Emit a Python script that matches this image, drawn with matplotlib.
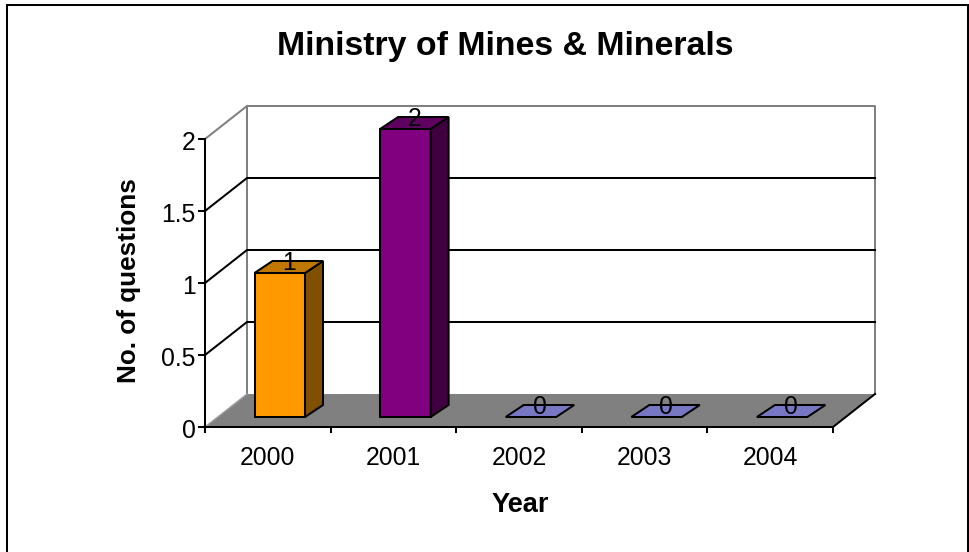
import matplotlib
matplotlib.use("Agg")
import matplotlib.pyplot as plt
from matplotlib.patches import Polygon
from matplotlib.transforms import ScaledTranslation

plt.rcParams['font.family'] = ['Liberation Sans', 'DejaVu Sans']

years = ['2000', '2001', '2002', '2003', '2004']
values = [1, 2, 0, 0, 0]
front_colors = ['#FF9900', '#800080', '#7777C4', '#7777C4', '#7777C4']
side_colors = ['#805000', '#400040', '#7777C4', '#7777C4', '#7777C4']
top_colors = ['#C07800', '#600060', '#7777C4', '#7777C4', '#7777C4']
y_ticks = [0, 0.5, 1, 1.5, 2]
y_tick_labels = ['0', '0.5', '1', '1.5', '2']

W, H = 969, 552
fig = plt.figure(figsize=(W / 100, H / 100), dpi=100, facecolor='white')
# outer frame: bottom edge runs off the picture
fig.add_artist(plt.Line2D([7 / W, 7 / W, 968 / W, 968 / W], [0, 1 - 5 / H, 1 - 5 / H, 0],
                          transform=fig.transFigure, color='black', lw=1.45,
                          solid_joinstyle='miter'))

L, R, T, B = 205, 833, 139, 427
ax = fig.add_axes([L / W, 1 - B / H, (R - L) / W, (B - T) / H])
ax.set_xlim(0, 5)
ax.set_ylim(0, 2)
ax.patch.set_alpha(0)
PX = 5 / (R - L)
PY = 2 / (B - T)
DX, DY = 42 * PX, 33 * PY   # wall depth
LW = 1.45

# floor and walls
ax.add_patch(Polygon([(0, 0), (5, 0), (5 + DX, DY), (DX, DY)], fc='#808080', ec='none', zorder=1, clip_on=False))
ax.plot([DX, DX, 5 + DX, 5 + DX], [DY, 2 + DY, 2 + DY, DY], color='#808080', lw=LW, zorder=1, clip_on=False)
ax.plot([0, DX], [2, 2 + DY], color='#808080', lw=LW, zorder=1, clip_on=False)
ax.plot([0, DX], [0, DY], color='#A0A0A0', lw=1, zorder=1.5, clip_on=False)
ax.plot([5, 5 + DX], [0, DY], color='black', lw=LW, zorder=1.5, clip_on=False)
for t in y_ticks[1:-1]:
    ax.plot([0, DX, 5 + DX], [t, t + DY, t + DY], color='black', lw=LW, zorder=2, clip_on=False)

# bars
off_x, off_y = 49.5 * PX, 10 * PY
bw = 50.5 * PX
bdx, bdy = 18 * PX, 12 * PY
for i, (v, fc, sc, tc) in enumerate(zip(values, front_colors, side_colors, top_colors)):
    x0 = i + off_x
    x1 = x0 + bw
    y0 = off_y
    y1 = off_y + v
    kw = dict(ec='black', lw=LW, joinstyle='miter', zorder=3, clip_on=False)
    if v > 0:
        ax.add_patch(Polygon([(x0, y0), (x1, y0), (x1, y1), (x0, y1)], fc=fc, **kw))
        ax.add_patch(Polygon([(x1, y0), (x1 + bdx, y0 + bdy), (x1 + bdx, y1 + bdy), (x1, y1)], fc=sc, **kw))
    ax.add_patch(Polygon([(x0, y1), (x1, y1), (x1 + bdx, y1 + bdy), (x0 + bdx, y1 + bdy)], fc=tc, **kw))
    ax.text(x0 + bw / 2 + 9 * PX, y1 + 10 * PY, str(v), ha='center', va='center', fontsize=17.8,
            color='black', zorder=4)

# axes
for s in ['top', 'right']:
    ax.spines[s].set_visible(False)
for s in ['left', 'bottom']:
    ax.spines[s].set_linewidth(LW)
    ax.spines[s].set_zorder(5)
ax.set_xticks(range(6))
ax.set_xticklabels([''] * 6)
ax.set_yticks(y_ticks)
ax.set_yticklabels(y_tick_labels, fontsize=17.8)
ax.tick_params(axis='x', direction='out', length=4.3, width=LW, color='black')
ax.tick_params(axis='y', direction='out', length=4.8, width=LW, color='black', pad=2)
shift = ScaledTranslation(0, -1.5 / 100, fig.dpi_scale_trans)
for lab in ax.get_yticklabels():
    lab.set_transform(lab.get_transform() + shift)
for i, y in enumerate(years):
    ax.text(i + 0.5, -31 * PY, y, ha='center', va='center', fontsize=17.8, color='black')

fig.text(505 / W, 1 - 46 / H, 'Ministry of Mines & Minerals', ha='center', va='center',
         fontsize=24.4, fontweight='bold')
fig.text(520.5 / W, 1 - 505 / H, 'Year', ha='center', va='center', fontsize=19.6, fontweight='bold')
fig.text(129 / W, 1 - 280.5 / H, 'No. of questions', rotation=90, ha='center', va='center',
         fontsize=18.8, fontweight='bold')

fig.savefig('out.png', dpi=100, facecolor='white')
